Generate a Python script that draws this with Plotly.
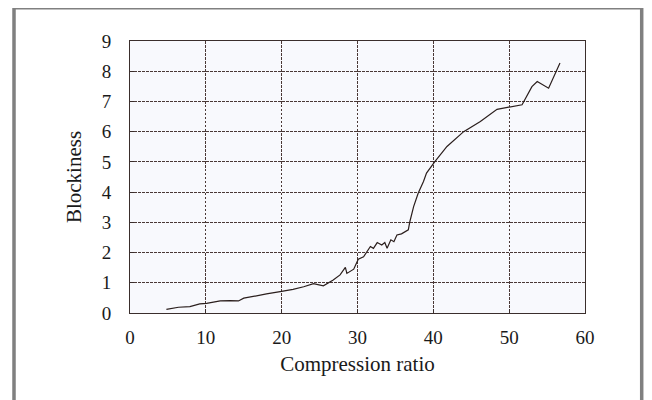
import plotly.graph_objects as go

compression_ratio = [4.8, 6.4, 7.9, 9.2, 10.1, 11.9, 13.2, 14.3, 15.0, 16.3, 18.0, 19.8, 21.5, 22.9,
                     24.2, 25.5, 26.8, 27.7, 28.4, 28.6, 29.5, 30.1, 30.8, 31.7, 32.1, 32.6, 33.2,
                     33.6, 33.9, 34.4, 34.8, 35.2, 35.8, 36.7, 36.9, 37.4, 38.0, 38.7, 39.1, 40.2,
                     41.8, 44.0, 46.2, 48.4, 49.9, 51.7, 53.0, 53.7, 55.2, 56.7]
blockiness = [0.12, 0.19, 0.21, 0.30, 0.32, 0.40, 0.41, 0.40, 0.49, 0.54, 0.63, 0.71, 0.78, 0.87,
              0.97, 0.90, 1.09, 1.26, 1.51, 1.31, 1.45, 1.78, 1.86, 2.20, 2.14, 2.33, 2.25,
              2.33, 2.14, 2.42, 2.36, 2.58, 2.62, 2.75, 3.02, 3.52, 3.96, 4.35, 4.63, 5.01,
              5.51, 6.00, 6.34, 6.74, 6.81, 6.89, 7.49, 7.66, 7.44, 8.27]

x_ticks = [0, 10, 20, 30, 40, 50, 60]
y_ticks = [0, 1, 2, 3, 4, 5, 6, 7, 8, 9]

# page body has an 8px default margin; size the figure to compensate
OFF = 8
W, H = 652 - OFF, 400 - OFF
L, T = 130 - OFF, 41 - OFF
R = 652 - 585
B = 400 - 313
pw, ph = W - L - R, H - T - B

fig = go.Figure()
fig.add_trace(go.Scatter(x=compression_ratio, y=blockiness, mode="lines",
                         line=dict(color="#2a1e1c", width=1.2), showlegend=False))

font = dict(family="Liberation Serif, Times New Roman, serif", color="#1a1a1a")
grid = dict(showgrid=True, gridcolor="#4a3836", gridwidth=1.4, griddash="2.5px,1.5px",
            showline=True, linecolor="#3a2e2c", linewidth=1, mirror=True,
            zeroline=False, ticks="inside", ticklen=4, tickcolor="#3a2e2c",
            tickfont=dict(size=19, **font))

fig.update_xaxes(range=[0, 60], tickvals=x_ticks, ticktext=[str(v) for v in x_ticks],
                 title=dict(text="Compression ratio", font=dict(size=21, **font), standoff=9),
                 ticklabelstandoff=7, **grid)
fig.update_yaxes(range=[0, 9], tickvals=y_ticks, ticktext=[str(v) for v in y_ticks],
                 title=dict(text="Blockiness", font=dict(size=21, **font), standoff=14),
                 ticklabelstandoff=14, **grid)

# outer grey frame (left, top, right); page coords converted to paper coords
fx0 = (14 - 130) / pw
fx1 = (641.7 - 130) / pw
fy1 = (313 - 7.7) / ph
fy0 = (313 - 420) / ph
fig.add_shape(type="rect", xref="paper", yref="paper", x0=fx0, x1=fx1, y0=fy0, y1=fy1,
              line=dict(color="#808080", width=3.5), layer="below")

fig.update_layout(width=W, height=H, margin=dict(l=L, r=R, t=T, b=B),
                  paper_bgcolor="white", plot_bgcolor="#f8f9fd")

fig.write_html("out.html")
